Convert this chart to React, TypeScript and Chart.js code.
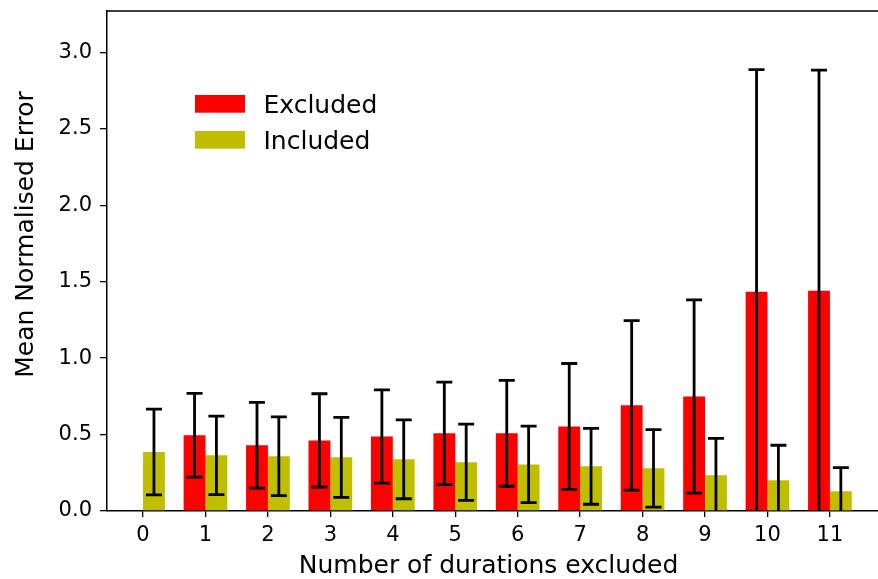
import React, { useEffect, useRef } from 'react';
import { Chart, registerables } from 'chart.js';

Chart.register(...registerables);

const categories = [0, 1, 2, 3, 4, 5, 6, 7, 8, 9, 10, 11];
const seriesNames = ['Excluded', 'Included'];
const seriesColors = ['#ff0000', '#bfbf00'];
const excludedMean = [null, 0.495, 0.43, 0.462, 0.488, 0.508, 0.508, 0.553, 0.691, 0.749, 1.435, 1.441];
const excludedErr = [null, 0.274, 0.28, 0.305, 0.305, 0.335, 0.346, 0.412, 0.555, 0.632, 1.453, 1.443];
const includedMean = [0.386, 0.364, 0.358, 0.351, 0.338, 0.319, 0.305, 0.292, 0.279, 0.234, 0.201, 0.129];
const includedErr = [0.28, 0.257, 0.258, 0.262, 0.258, 0.249, 0.25, 0.248, 0.253, 0.241, 0.229, 0.155];
const yTicks = [0, 0.5, 1.0, 1.5, 2.0, 2.5, 3.0];
const xTitle = 'Number of durations excluded';
const yTitle = 'Mean Normalised Error';

const FONT = "'DejaVu Sans', sans-serif";

const errorBarPlugin = {
  id: 'errorBars',
  afterDatasetsDraw(chart: any) {
    const ctx = chart.ctx;
    const area = chart.chartArea;
    const yScale = chart.scales.y;
    const errs = [excludedErr, includedErr];
    const means = [excludedMean, includedMean];
    ctx.save();
    ctx.beginPath();
    ctx.rect(area.left, area.top, area.right - area.left, area.bottom - area.top);
    ctx.clip();
    ctx.strokeStyle = '#000';
    ctx.lineWidth = 2.8;
    ctx.lineCap = 'butt';
    for (let d = 0; d < 2; d++) {
      const meta = chart.getDatasetMeta(d);
      meta.data.forEach((el: any, i: number) => {
        const m = means[d][i];
        const e = errs[d][i];
        if (m == null || e == null) return;
        const x = el.x;
        const yLo = yScale.getPixelForValue(m - e);
        const yHi = yScale.getPixelForValue(m + e);
        ctx.beginPath();
        ctx.moveTo(x, yLo);
        ctx.lineTo(x, yHi);
        ctx.moveTo(x - 8, yLo);
        ctx.lineTo(x + 8, yLo);
        ctx.moveTo(x - 8, yHi);
        ctx.lineTo(x + 8, yHi);
        ctx.stroke();
      });
    }
    ctx.restore();
  },
};

const framePlugin = {
  id: 'frameAndLegend',
  afterDraw(chart: any) {
    const ctx = chart.ctx;
    const area = chart.chartArea;
    ctx.save();
    ctx.strokeStyle = '#000';
    ctx.lineWidth = 1.5;
    ctx.beginPath();
    ctx.moveTo(area.left - 0.75, area.top);
    ctx.lineTo(area.right, area.top);
    ctx.stroke();
    // legend
    ctx.font = `25px ${FONT}`;
    ctx.textBaseline = 'alphabetic';
    ctx.textAlign = 'left';
    seriesNames.forEach((name, i) => {
      const bx = area.left + 88;
      const by = area.top + 84 + i * 36;
      ctx.fillStyle = seriesColors[i];
      ctx.fillRect(bx, by, 50, 17.7);
      ctx.fillStyle = '#000';
      ctx.fillText(name, bx + 68.5, by + 17.7);
    });
    // axis titles
    ctx.font = `25px ${FONT}`;
    ctx.textAlign = 'center';
    ctx.textBaseline = 'alphabetic';
    ctx.fillText(xTitle, (area.left + area.right) / 2 - 4, 573);
    ctx.translate(33, 234.5);
    ctx.rotate(-Math.PI / 2);
    ctx.fillText(yTitle, 0, 0);
    ctx.restore();
  },
};

export default function App() {
  const ref = useRef<HTMLCanvasElement>(null);
  useEffect(() => {
    const chart = new Chart(ref.current as HTMLCanvasElement, {
      type: 'bar',
      data: {
        datasets: [
          {
            label: seriesNames[0],
            data: categories.map((c, i) => ({ x: c, y: excludedMean[i] })),
            backgroundColor: seriesColors[0],
            categoryPercentage: 0.7,
            barPercentage: 1.0,
          },
          {
            label: seriesNames[1],
            data: categories.map((c, i) => ({ x: c, y: includedMean[i] })),
            backgroundColor: seriesColors[1],
            categoryPercentage: 0.7,
            barPercentage: 1.0,
          },
        ],
      },
      options: {
        animation: false,
        responsive: false,
        maintainAspectRatio: false,
        layout: { padding: { top: 11, right: 0, left: 0, bottom: 0 } },
        plugins: { legend: { display: false }, tooltip: { enabled: false } },
        scales: {
          x: {
            type: 'linear',
            offset: false,
            min: -0.577,
            max: 11.77,
            afterBuildTicks: (scale: any) => {
              scale.ticks = categories.map((v) => ({ value: v }));
            },
            afterFit: (scale: any) => {
              scale.height = 68;
              scale.paddingLeft = 0;
              scale.paddingRight = 0;
            },
            grid: { offset: false, drawOnChartArea: false, drawTicks: true, tickLength: 6, color: '#000', lineWidth: 1.3 },
            border: { display: true, color: '#000', width: 1.5 },
            ticks: { color: '#000', font: { family: FONT, size: 21 }, padding: 6, maxRotation: 0, autoSkip: false },
            title: { display: false },
          },
          y: {
            type: 'linear',
            min: 0,
            max: 3.271,
            afterBuildTicks: (scale: any) => {
              scale.ticks = yTicks.map((v) => ({ value: v }));
            },
            afterFit: (scale: any) => {
              scale.width = 107;
              scale.paddingTop = 0;
              scale.paddingBottom = 0;
            },
            grid: { drawOnChartArea: false, drawTicks: true, tickLength: 7, color: '#000', lineWidth: 1.3 },
            border: { display: true, color: '#000', width: 1.5 },
            ticks: { color: '#000', font: { family: FONT, size: 21 }, padding: 8, callback: (v: any) => Number(v).toFixed(1) },
            title: { display: false },
          },
        },
      },
      plugins: [errorBarPlugin, framePlugin],
    } as any);
    return () => chart.destroy();
  }, []);
  return (
    <div style={{ position: 'absolute', left: 0, top: 0, width: 878, height: 579, background: '#fff' }}>
      <canvas ref={ref} width={878} height={579} style={{ width: 878, height: 579 }} />
    </div>
  );
}
